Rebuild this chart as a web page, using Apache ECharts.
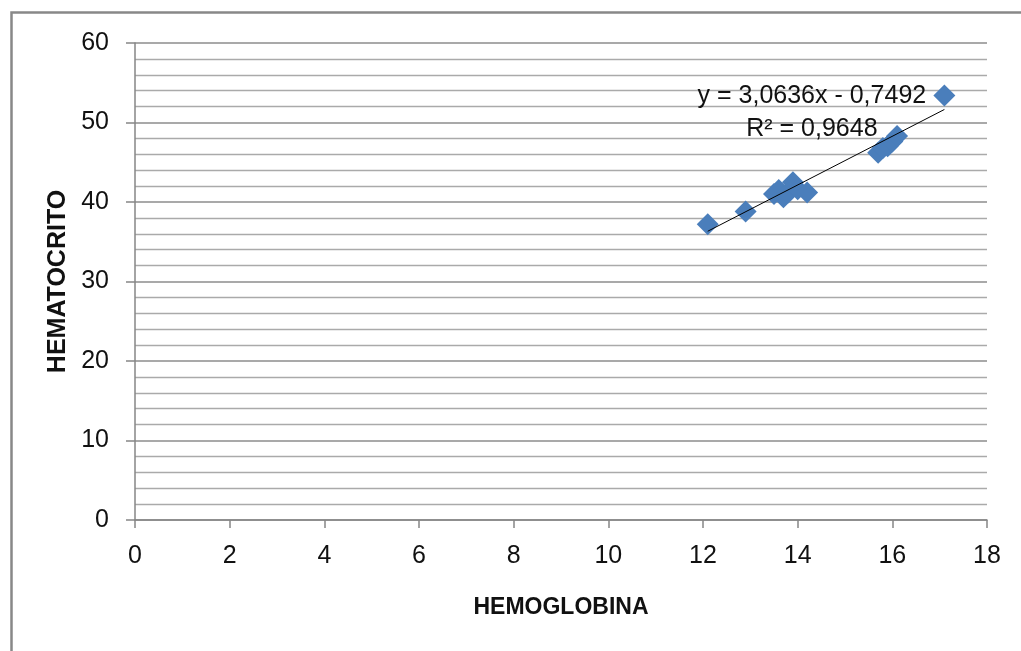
<!DOCTYPE html>
<html>
<head>
<meta charset="utf-8">
<script src="https://cdn.jsdelivr.net/npm/echarts@6/dist/echarts.min.js"></script>
<style>
html,body{margin:0;padding:0;background:#fff;}
#c{width:1021px;height:651px;}
</style>
</head>
<body>
<div id="c"></div>
<script>
// Data
const hemoglobina = [12.1, 12.9, 13.5, 13.6, 13.7, 13.8, 13.9, 14.0, 14.2, 15.7, 15.8, 15.9, 16.0, 16.1, 17.1];
const hematocrito = [37.2, 38.8, 41.0, 41.5, 40.6, 41.2, 42.5, 41.6, 41.2, 46.2, 46.8, 47.0, 47.6, 48.3, 53.4];
const trendSlope = 3.0636;
const trendIntercept = -0.7492;
const equationText = 'y = 3,0636x - 0,7492';
const r2Text = 'R² = 0,9648';
const xTitle = 'HEMOGLOBINA';
const yTitle = 'HEMATOCRITO';

const points = hemoglobina.map((x, i) => [x, hematocrito[i]]);
const xMin = Math.min(...hemoglobina), xMax = Math.max(...hemoglobina);
const trend = [xMin, xMax].map(x => [x, trendSlope * x + trendIntercept]);

const FONT = '"Liberation Sans Narrow", "Arial Narrow", "Liberation Sans", sans-serif';

const chart = echarts.init(document.getElementById('c'), null, {renderer: 'canvas'});
chart.setOption({
  animation: false,
  backgroundColor: '#ffffff',
  grid: {left: 135, top: 43, right: 34, bottom: 131, containLabel: false},
  xAxis: {
    type: 'value', min: 0, max: 18, interval: 2,
    name: xTitle, nameLocation: 'middle', nameGap: 76,
    nameTextStyle: {fontFamily: FONT, fontSize: 23, fontWeight: 'bold', color: '#111'},
    axisLine: {show: true, onZero: false, lineStyle: {color: '#868686', width: 1.5}},
    axisTick: {show: true, length: 8, inside: false, lineStyle: {color: '#868686', width: 1.5}},
    axisLabel: {fontFamily: FONT, fontSize: 25, color: '#111', margin: 24},
    splitLine: {show: false}
  },
  yAxis: {
    type: 'value', min: 0, max: 60, interval: 10,
    name: yTitle, nameLocation: 'middle', nameGap: 60, nameRotate: 90,
    nameTextStyle: {fontFamily: FONT, fontSize: 25, fontWeight: 'bold', color: '#111'},
    axisLine: {show: true, lineStyle: {color: '#868686', width: 1.5}},
    axisTick: {show: true, length: 9, lineStyle: {color: '#868686', width: 1.5}},
    axisLabel: {fontFamily: FONT, fontSize: 25, color: '#111', margin: 26},
    splitLine: {show: true, lineStyle: {color: '#8c8c8c', width: 1.5}},
    minorTick: {show: false, splitNumber: 5},
    minorSplitLine: {show: true, lineStyle: {color: '#aaaaaa', width: 1.3}}
  },
  series: [
    {
      type: 'line', data: trend, symbol: 'none', silent: true, z: 3,
      lineStyle: {color: '#000', width: 1}
    },
    {
      type: 'scatter', data: points, symbol: 'diamond', symbolSize: [22, 22], z: 2,
      itemStyle: {color: '#4A7EBB', opacity: 1}
    }
  ]
});

function placeTexts() {
  const p1 = chart.convertToPixel({gridIndex: 0}, [14.3, 53.3]);
  const p2 = chart.convertToPixel({gridIndex: 0}, [14.3, 49.2]);
  chart.setOption({
    graphic: [
      {type: 'rect', left: 9, top: 10, shape: {width: 1100, height: 700}, silent: true,
       style: {fill: 'none', stroke: '#888888', lineWidth: 2.5}, z: 100},
      {type: 'text', x: p1[0], y: p1[1], z: 50,
       style: {text: equationText, fontFamily: FONT, fontSize: 25, fill: '#111', align: 'center', verticalAlign: 'middle'}},
      {type: 'text', x: p2[0], y: p2[1], z: 50,
       style: {text: r2Text, fontFamily: FONT, fontSize: 25, fill: '#111', align: 'center', verticalAlign: 'middle'}}
    ]
  });
}
placeTexts();
</script>
</body>
</html>
